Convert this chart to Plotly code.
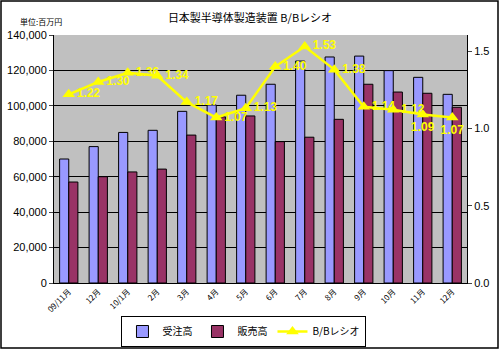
import plotly.graph_objects as go

categories = ["09/11月", "12月", "10/1月", "2月", "3月", "4月", "5月", "6月", "7月", "8月", "9月", "10月", "11月", "12月"]
orders = [70000, 77000, 85000, 86200, 96900, 100500, 106000, 112200, 125300, 127600, 128100, 119900, 116100, 106500]
sales = [57000, 60000, 62700, 64300, 83500, 93800, 94300, 79800, 82300, 92400, 112200, 107800, 107100, 99200]
bb_ratio = [1.22, 1.30, 1.36, 1.34, 1.17, 1.07, 1.13, 1.40, 1.53, 1.38, 1.14, 1.12, 1.09, 1.07]
label_pos = ["middle right"] * 12 + ["bottom center", "bottom center"]

xi = list(range(len(categories)))
font_main = "Arial, 'Liberation Sans', 'Noto Sans CJK JP', sans-serif"
font_jp = "'Noto Sans CJK JP', sans-serif"

fig = go.Figure()
fig.add_trace(go.Bar(x=xi, y=orders, name="受注高", marker=dict(color="#9999FF", line=dict(color="black", width=1))))
fig.add_trace(go.Bar(x=xi, y=sales, name="販売高", marker=dict(color="#993366", line=dict(color="black", width=1))))
fig.add_trace(go.Scatter(
    x=xi, y=bb_ratio, name="B/Bレシオ", yaxis="y2", mode="lines+markers+text",
    line=dict(color="#FFFF00", width=2.5),
    marker=dict(symbol="triangle-up", size=11, color="#FFFF00"),
    text=[f"{v:.2f}" for v in bb_ratio], textposition=label_pos,
    textfont=dict(color="#FFFF00", size=12, family="Arial, 'Liberation Sans', sans-serif", weight="bold"),
    cliponaxis=False,
))

fig.update_layout(
    width=500, height=350,
    margin=dict(l=54, r=33, t=35, b=67, autoexpand=False),
    paper_bgcolor="white", plot_bgcolor="#C0C0C0",
    font=dict(family=font_main, size=11, color="black"),
    barmode="group", bargap=0.38, bargroupgap=0,
    showlegend=True,
    title=dict(text="日本製半導体製造装置 B/Bレシオ", x=0.5, xanchor="center", y=1 - 18 / 350, yanchor="middle",
               font=dict(size=11, family=font_jp)),
    xaxis=dict(tickmode="array", tickvals=xi, ticktext=categories, tickangle=-45,
               range=[-0.5, len(categories) - 0.5], showgrid=False, showline=True, linecolor="black", linewidth=1,
               ticks="", tickfont=dict(size=8, family=font_jp), automargin=False),
    yaxis=dict(range=[0, 140000], dtick=20000, tickformat=",d", showgrid=True, gridcolor="black", gridwidth=1,
               showline=True, linecolor="black", linewidth=1, ticks="outside", ticklen=4, zeroline=False,
               tickfont=dict(size=11), automargin=False),
    yaxis2=dict(overlaying="y", side="right", range=[0, 1.604], tickvals=[0, 0.5, 1.0, 1.5],
                ticktext=["0.0", "0.5", "1.0", "1.5"], showgrid=False, showline=True, linecolor="black",
                linewidth=1, ticks="outside", ticklen=4, zeroline=False, tickfont=dict(size=11), automargin=False),
    legend=dict(orientation="h", x=0.46, xanchor="center", y=(283 - 347) / 248, yanchor="bottom",
                bordercolor="black", borderwidth=1, bgcolor="white", tracegroupgap=0,
                font=dict(size=10, family=font_jp), itemwidth=30),
)

fig.add_annotation(text="単位:百万円", xref="paper", yref="paper", x=-0.087, y=(283 - 21) / 248, xanchor="left",
                   yanchor="middle", showarrow=False, font=dict(size=8, family=font_jp))
fig.add_shape(type="rect", xref="paper", yref="paper", x0=(1 - 54) / 413, x1=(498 - 54) / 413,
              y0=(283 - 348) / 248, y1=(283 - 1) / 248, line=dict(color="black", width=1.5))

fig.write_html("out.html")
